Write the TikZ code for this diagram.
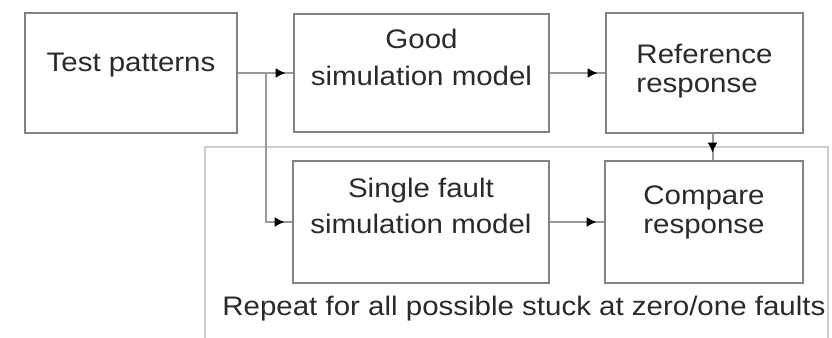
\documentclass[tikz,border=0pt]{standalone}
\usepackage{fontspec}
\setmainfont{Liberation Sans}[FakeStretch=1.1]
\usetikzlibrary{arrows.meta,decorations.markings}
\definecolor{BoxLine}{HTML}{828282}
\definecolor{FlowLine}{HTML}{999999}
\definecolor{FrameLine}{HTML}{CDCDCD}
\definecolor{TextDark}{HTML}{2A2A2A}

\begin{document}
\begin{tikzpicture}[x=0.5pt,y=-0.5pt,
    font=\fontsize{13.4}{14.5}\selectfont,
    blk/.style={draw=BoxLine,line width=1.3pt,text=TextDark,inner sep=0pt,
      minimum width=#1,text depth=0pt},
    flow/.style={draw=FlowLine,line width=1pt,postaction={decorate},
      decoration={markings,mark=at position -3.5pt with
        {\arrow{Latex[length=5pt,width=5pt,color=black]}}}}]
  \useasboundingbox (0,0) rectangle (832,338);
  % loop frame, open at the bottom
  \draw[FrameLine,line width=1pt] (205,338) -- (205,147) -- (828,147) -- (828,338);

  \node[blk=106pt,minimum height=60pt,text height=0pt,text depth=2pt] (tp) at (131,73) {Test patterns};
  \node[blk=127.5pt,minimum height=59pt,text height=12pt,align=center] (good) at (421.5,73) {Good\\[4pt]simulation model};
  \node[blk=98.5pt,minimum height=60pt,text height=19pt,align=left] (ref) at (704.5,73) {Reference\\response};
  \node[blk=128pt,minimum height=61pt,text height=11pt,align=center] (sf) at (421,222) {Single fault\\[3.5pt]simulation model};
  \node[blk=99pt,minimum height=61pt,text height=11pt,align=left] (cmp) at (704,222) {Compare\\response};
  \node[anchor=base west,inner sep=0pt,text=TextDark] (note) at (222,315) {Repeat for all possible stuck at zero/one faults};

  \coordinate (fork) at (266,73);
  \draw[flow] (tp.east) -- (good.west);
  \draw[flow] (fork) |- (sf.west);
  \draw[flow] (good.east) -- (ref.west);
  \draw[flow] (sf.east) -- (cmp.west);
  \draw[flow] ([xshift=4pt]ref.south) -- ([xshift=4pt]ref.south |- cmp.north);
\end{tikzpicture}
\end{document}
